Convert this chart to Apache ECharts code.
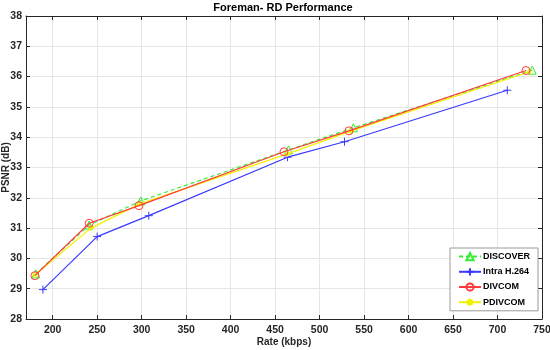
<!DOCTYPE html>
<html><head><meta charset="utf-8">
<script src="https://cdn.jsdelivr.net/npm/echarts@6/dist/echarts.min.js"></script>
<style>html,body{margin:0;padding:0;background:#fff}#c{width:550px;height:350px}</style>
</head><body><div id="c"></div>
<script>
const xTicks = [200, 250, 300, 350, 400, 450, 500, 550, 600, 650, 700, 750];
const yTicks = [28, 29, 30, 31, 32, 33, 34, 35, 36, 37, 38];

const discoverRate = [181, 241, 299, 465, 538, 739];
const discoverPsnr = [29.49, 31.1, 31.9, 33.58, 34.31, 36.21];
const intraRate = [189, 250, 308, 464, 528, 711];
const intraPsnr = [28.97, 30.72, 31.41, 33.34, 33.85, 35.55];
const divcomRate = [180, 241, 297, 460, 533, 732];
const divcomPsnr = [29.43, 31.16, 31.74, 33.52, 34.21, 36.2];
const pdivcomRate = [180, 243, 298, 464, 535, 735];
const pdivcomPsnr = [29.45, 31.0, 31.8, 33.45, 34.2, 36.15];

const names = ['DISCOVER', 'Intra H.264', 'DIVCOM', 'PDIVCOM'];

function pairs(xs, ys) { return xs.map((x, i) => [x, ys[i]]); }

const FONT = '"Liberation Sans", Arial, sans-serif';
const NARROW = '"Liberation Sans Narrow", "Liberation Sans", Arial, sans-serif';
const AX = '#262626';
const chart = echarts.init(document.getElementById('c'));

const plusPath = 'path://M0,5L10,5M5,0L5,10';
const starPath = 'path://M0,5L10,5M5,0L5,10M1.5,1.5L8.5,8.5M1.5,8.5L8.5,1.5';

chart.setOption({
  animation: false,
  backgroundColor: '#fff',
  title: {
    text: 'Foreman- RD Performance',
    left: 283, top: 2, padding: 0, textAlign: 'center',
    textStyle: { fontFamily: FONT, fontSize: 11, fontWeight: 'bold', color: '#000' }
  },
  grid: { left: 26, right: 8, top: 16, bottom: 31, containLabel: false, outerBoundsMode: 'none' },
  legend: {
    orient: 'vertical',
    left: 450, top: 248,
    width: 88,
    padding: [4, 8, 4, 8],
    itemGap: 6,
    itemWidth: 22, itemHeight: 9,
    backgroundColor: '#fff',
    borderColor: '#9a9a9a', borderWidth: 1,
    data: names,
    textStyle: { fontFamily: FONT, fontSize: 9, fontWeight: 'bold', color: '#000', padding: [0,0,0,-3] }
  },
  xAxis: [{
    type: 'value', min: 170, max: 750, splitNumber: 12,
    name: 'Rate (kbps)', nameLocation: 'middle', nameGap: 18, nameMoveOverlap: false,
    nameTextStyle: { fontFamily: FONT, fontSize: 10, fontWeight: 'bold', color: AX },
    axisLine: { show: true, lineStyle: { color: AX, width: 1 } },
    axisTick: { show: true, inside: true, length: 4, customValues: xTicks, lineStyle: { color: AX } },
    axisLabel: { customValues: xTicks, fontFamily: NARROW, fontSize: 10.5, fontWeight: 'bold', color: AX, margin: 6 },
    splitLine: { show: true, lineStyle: { color: '#e6e6e6', width: 1 } }
  }, {
    type: 'value', min: 170, max: 750, splitNumber: 12, position: 'top',
    axisLine: { show: true, lineStyle: { color: AX, width: 1 } },
    axisTick: { show: true, inside: true, length: 4, customValues: xTicks, lineStyle: { color: AX } },
    axisLabel: { show: false }, splitLine: { show: false }
  }],
  yAxis: [{
    type: 'value', min: 28, max: 38, interval: 1,
    name: 'PSNR (dB)', nameLocation: 'middle', nameGap: 15, nameRotate: 90, nameMoveOverlap: false,
    nameTextStyle: { fontFamily: FONT, fontSize: 10, fontWeight: 'bold', color: AX },
    axisLine: { show: true, lineStyle: { color: AX, width: 1 } },
    axisTick: { show: true, inside: true, length: 4, lineStyle: { color: AX } },
    axisLabel: { customValues: yTicks, fontFamily: NARROW, fontSize: 10.5, fontWeight: 'bold', color: AX, margin: 4 },
    splitLine: { show: true, lineStyle: { color: '#e6e6e6', width: 1 } }
  }, {
    type: 'value', min: 28, max: 38, interval: 1, position: 'right',
    axisLine: { show: true, lineStyle: { color: AX, width: 1 } },
    axisTick: { show: true, inside: true, length: 4, lineStyle: { color: AX } },
    axisLabel: { show: false }, splitLine: { show: false }
  }],
  series: [
    {
      name: names[0], type: 'line', z: 2,
      data: pairs(discoverRate, discoverPsnr),
      symbol: 'triangle', symbolSize: 8,
      lineStyle: { color: '#33ee33', width: 1.2, type: [4, 3] },
      itemStyle: { color: '#ffffff00', borderColor: '#33ee33', borderWidth: 1 }
    },
    {
      name: names[1], type: 'line', z: 3,
      data: pairs(intraRate, intraPsnr),
      symbol: plusPath, symbolSize: 8,
      lineStyle: { color: '#3a3aff', width: 1.2 },
      itemStyle: { color: '#ffffff00', borderColor: '#3a3aff', borderWidth: 1 }
    },
    {
      name: names[2], type: 'line', z: 5,
      data: pairs(divcomRate, divcomPsnr),
      symbol: 'circle', symbolSize: 8,
      lineStyle: { color: '#ff3a3a', width: 1.2 },
      itemStyle: { color: '#ffffff00', borderColor: '#ff3a3a', borderWidth: 1 }
    },
    {
      name: names[3], type: 'line', z: 4,
      data: pairs(pdivcomRate, pdivcomPsnr),
      symbol: starPath, symbolSize: 6,
      lineStyle: { color: '#f2f200', width: 1.2 },
      itemStyle: { color: '#ffffff00', borderColor: '#f2f200', borderWidth: 1 }
    }
  ]
});
</script>
</body></html>
